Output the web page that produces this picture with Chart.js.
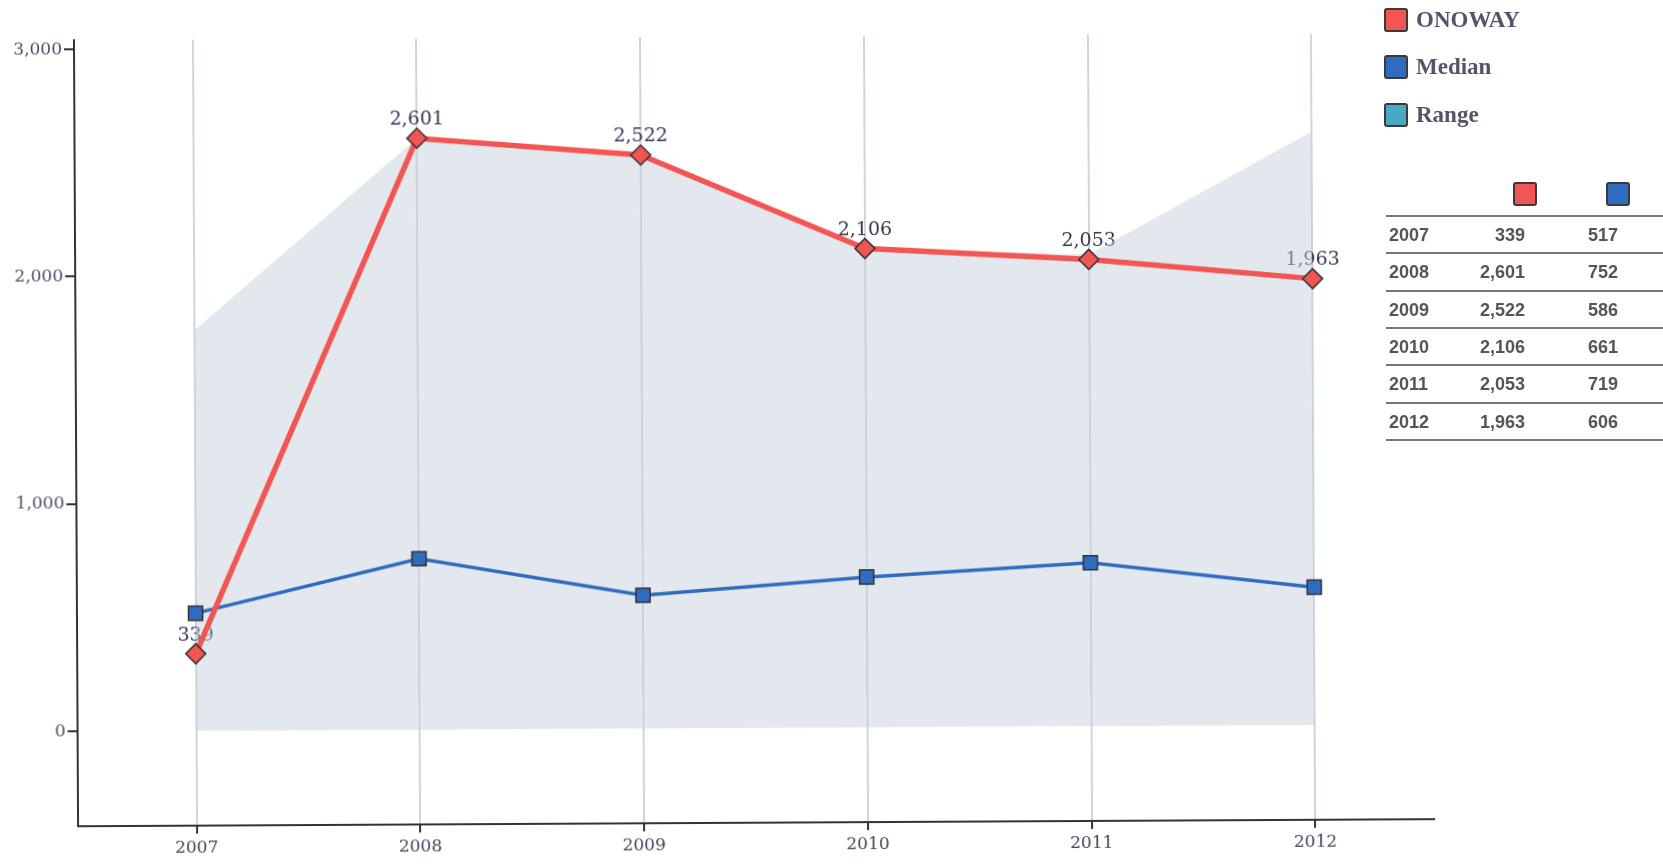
<!DOCTYPE html>
<html>
<head>
<meta charset="utf-8">
<script src="https://cdn.jsdelivr.net/npm/chart.js@4.4.1/dist/chart.umd.min.js"></script>
<style>
  body { margin: 0; background: #fff; }
  #wrap { position: relative; width: 1663px; height: 868px; overflow: hidden; }
  #chart { position: absolute; left: 0; top: -2px; transform: rotate(-0.3deg); transform-origin: 700px 430px; }
  .legend-row { position: absolute; left: 1384px; height: 24px; display: flex; align-items: center;
    font-family: "Liberation Serif", serif; font-weight: bold; font-size: 23px; color: #55536a; }
  .swatch { width: 20px; height: 20px; border: 2px solid #3a3a3a; border-radius: 3px; margin-right: 8px; }
  .tbl-line { position: absolute; left: 1386px; width: 277px; height: 2px; background: #777; }
  .tbl-cell { position: absolute; font-family: "Liberation Sans", sans-serif; font-weight: bold;
    font-size: 18px; color: #555; line-height: 20px; }
  .tbl-head { position: absolute; width: 20px; height: 20px; border: 2px solid #3a3a3a; border-radius: 3px; }
</style>
</head>
<body>
<div id="wrap">
  <canvas id="chart" width="1663" height="868"></canvas>
  <div id="legend"></div>
  <div id="table"></div>
</div>
<script>
document.addEventListener("DOMContentLoaded", function() {
  // chart data
  const years = [2007, 2008, 2009, 2010, 2011, 2012];
  const onoway = [339, 2601, 2522, 2106, 2053, 1963];
  const median = [517, 752, 586, 661, 719, 606];
  const rangeLow = [0, 0, 0, 0, 0, 0];
  const rangeHigh = [1760, 2601, 2522, 2106, 2075, 2610];
  const yTicks = [0, 1000, 2000, 3000];

  const red = '#f25552';
  const blue = '#2f6cc0';
  const teal = '#4aa9c2';
  const rangeFill = 'rgba(196, 207, 222, 0.48)';

  const pts = arr => arr.map((v, i) => ({ x: years[i], y: v }));

  // Legend (top right)
  const legend = document.getElementById("legend");
  [['ONOWAY', red, 8], ['Median', blue, 55], ['Range', teal, 103]].forEach(([name, col, top]) => {
    const row = document.createElement('div');
    row.className = 'legend-row';
    row.style.top = top + 'px';
    row.innerHTML = '<div class="swatch" style="background:' + col + '"></div>' + name;
    legend.appendChild(row);
  });

  // Data table under the legend
  const table = document.getElementById("table");
  const head1 = document.createElement('div');
  head1.className = 'tbl-head';
  head1.style.cssText = 'left:1513px;top:182px;background:' + red;
  const head2 = document.createElement('div');
  head2.className = 'tbl-head';
  head2.style.cssText = 'left:1606px;top:182px;background:' + blue;
  table.appendChild(head1);
  table.appendChild(head2);
  const lineYs = [215, 252, 290, 327, 364, 402, 439];
  lineYs.forEach(y => {
    const l = document.createElement('div');
    l.className = 'tbl-line';
    l.style.top = y + 'px';
    table.appendChild(l);
  });
  years.forEach((yr, i) => {
    const top = (lineYs[i] + lineYs[i + 1]) / 2 - 9;
    const c1 = document.createElement('div');
    c1.className = 'tbl-cell';
    c1.style.cssText = 'left:1389px;top:' + top + 'px';
    c1.textContent = yr;
    const c2 = document.createElement('div');
    c2.className = 'tbl-cell';
    c2.style.cssText = 'right:' + (1663 - 1525) + 'px;top:' + top + 'px';
    c2.textContent = onoway[i].toLocaleString('en-US');
    const c3 = document.createElement('div');
    c3.className = 'tbl-cell';
    c3.style.cssText = 'left:1588px;top:' + top + 'px';
    c3.textContent = median[i].toLocaleString('en-US');
    table.appendChild(c1);
    table.appendChild(c2);
    table.appendChild(c3);
  });

  // value labels above the ONOWAY points (drawn under the lines, like the original)
  const valueLabels = {
    id: 'valueLabels',
    beforeDatasetsDraw(chart) {
      const ctx = chart.ctx;
      const meta = chart.getDatasetMeta(3);
      ctx.save();
      ctx.font = '19px "DejaVu Serif", serif';
      ctx.fillStyle = '#37354f';
      ctx.textAlign = 'center';
      ctx.textBaseline = 'bottom';
      meta.data.forEach((p, i) => {
        ctx.fillText(onoway[i].toLocaleString('en-US'), p.x, p.y - 9);
      });
      ctx.restore();
    }
  };

  new Chart(document.getElementById("chart"), {
    type: 'line',
    data: {
      datasets: [
        { label: 'RangeLow', data: pts(rangeLow), pointRadius: 0, borderWidth: 0, fill: false, order: 10 },
        { label: 'Range', data: pts(rangeHigh), pointRadius: 0, borderWidth: 0,
          backgroundColor: rangeFill, fill: '-1', order: 9 },
        { label: 'Median', data: pts(median), borderColor: blue, borderWidth: 3.5,
          pointStyle: 'rect', pointRadius: 10, pointBackgroundColor: blue,
          pointBorderColor: '#333', pointBorderWidth: 1.5, order: 2 },
        { label: 'ONOWAY', data: pts(onoway), borderColor: red, borderWidth: 5.5,
          pointStyle: 'rectRot', pointRadius: 10, pointBackgroundColor: red,
          pointBorderColor: '#333', pointBorderWidth: 1.5, order: 1 }
      ]
    },
    options: {
      responsive: false,
      animation: false,
      layout: { padding: { left: 0, right: 231, top: 39, bottom: 0 } },
      plugins: {
        legend: { display: false },
        tooltip: { enabled: false }
      },
      scales: {
        x: {
          type: 'linear',
          min: 2006.47,
          max: 2012.53,
          afterBuildTicks: axis => { axis.ticks = years.map(v => ({ value: v })); },
          afterFit: axis => { axis.height = 43; },
          grid: { color: '#cfd5e0', lineWidth: 2, tickColor: '#333', tickLength: 8 },
          border: { display: true, color: '#333', width: 2 },
          ticks: {
            padding: 4,
            color: '#44425a',
            font: { family: '"DejaVu Serif", serif', size: 17 },
            callback: v => String(v)
          }
        },
        y: {
          min: -417,
          max: 3040,
          afterBuildTicks: axis => { axis.ticks = yTicks.map(v => ({ value: v })); },
          afterFit: axis => { axis.width = 76; },
          grid: { drawOnChartArea: false, tickColor: '#333', tickLength: 10, lineWidth: 2 },
          border: { display: true, color: '#333', width: 2 },
          ticks: {
            padding: 2,
            color: '#524c68',
            font: { family: '"DejaVu Serif", serif', size: 17 },
            callback: v => v.toLocaleString('en-US')
          }
        }
      }
    },
    plugins: [valueLabels]
  });
});
</script>
</body>
</html>
